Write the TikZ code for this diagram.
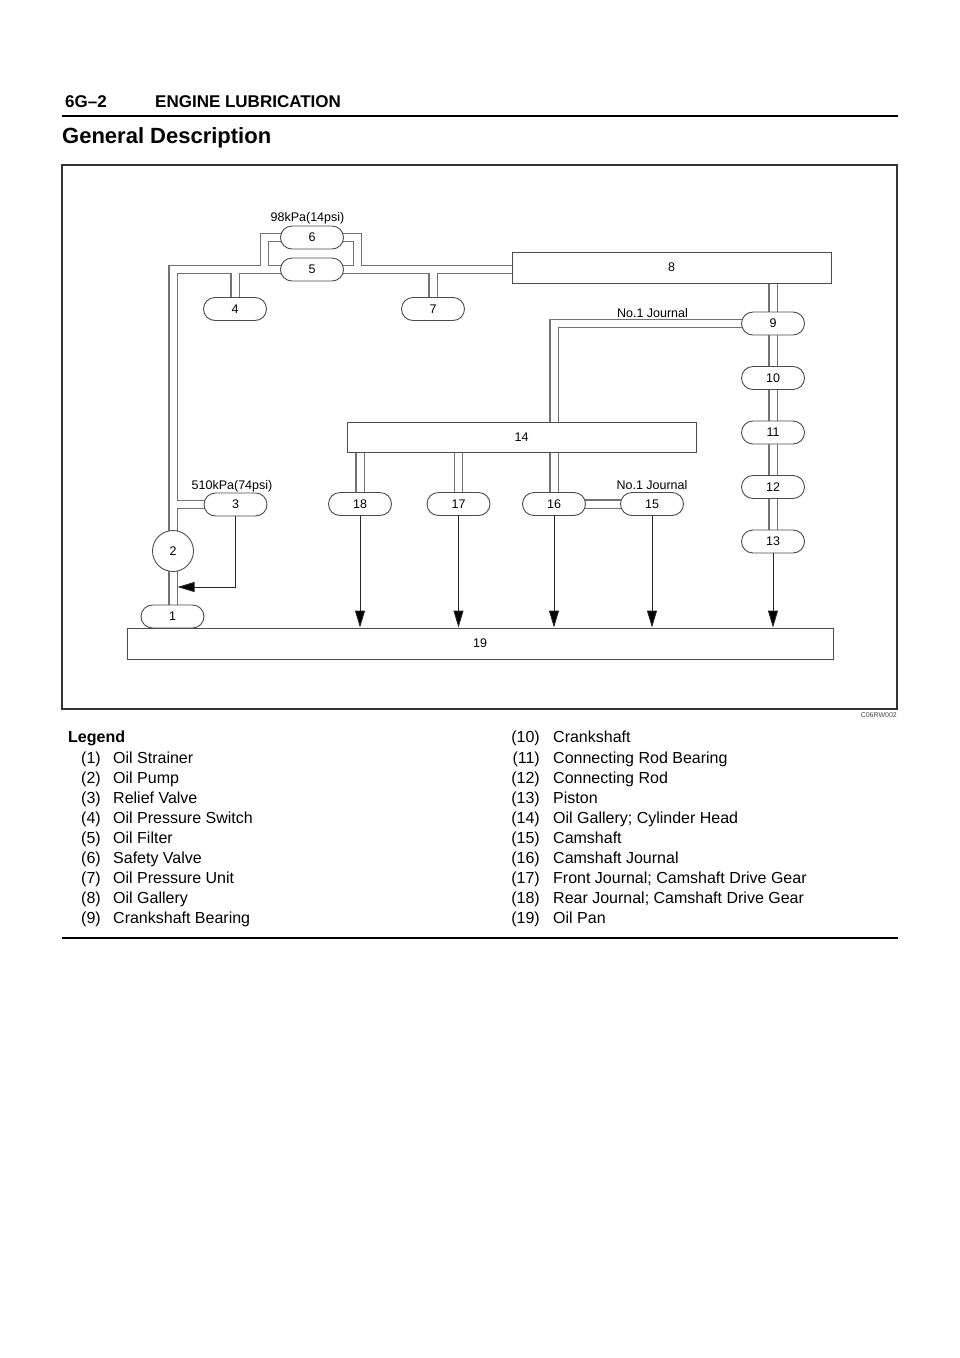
\documentclass[tikz,border=0pt]{standalone}
\usepackage{fontspec}
\setmainfont{Liberation Sans}
\usetikzlibrary{shapes.misc,arrows.meta}
\pgfdeclarelayer{background}
\pgfsetlayers{background,main}

\newcommand\pipenet{%
  \draw (n2.center) -- (173,269.5) -- (n5.center);
  \draw (264.5,269.5) -- (264.5,237.5) -- (n6.center);
  \draw (n5.center) -- (n5.center -| n8.center);
  \draw (357.5,269.5) -- (357.5,237.5) -- (n6.center);
  \draw (n4.center |- n5.center) -- (n4.center);
  \draw (n7.center |- n5.center) -- (n7.center);
  \draw (n9.center |- n8.center) -- (n13.center);
  \draw (n9.center) -- (n16.center |- n9.center) -- (n16.center);
  \draw (n18.center |- n14.center) -- (n18.center);
  \draw (n17.center |- n14.center) -- (n17.center);
  \draw (n16.center) -- (n15.center);
  \draw (n3.center -| n2.center) -- (n3.center);
  \draw (n2.center) -- (n2.center |- n1.center);
}

\begin{document}
\begin{tikzpicture}[x=1pt,y=-1pt,
  dfont/.style={font=\fontsize{12.5}{14}\selectfont},
  pill/.style={rounded rectangle, draw=black!70, line width=0.9pt, fill=white,
    minimum width=63pt, minimum height=23pt, inner sep=0pt, dfont},
  pbox/.style={rectangle, draw=black!70, line width=0.9pt, fill=white,
    inner sep=0pt, dfont},
  lbl/.style={anchor=base, inner sep=0pt, dfont},
  flow/.style={draw=black!85, line width=0.9pt, -{Triangle[length=17pt,width=10pt,fill=black]}},
  legn/.style={anchor=base east, inner sep=0pt, font=\fontsize{16}{18}\selectfont},
  legt/.style={anchor=base west, inner sep=0pt, font=\fontsize{16}{18}\selectfont},
  pipeout/.style={every path/.style={draw=black!55, line width=9.3pt}},
  pipein/.style={every path/.style={draw=white, line width=7pt}}
]
\useasboundingbox (0,0) rectangle (960,1358);

% header
\node[anchor=base west, inner sep=0pt, font=\bfseries\fontsize{17}{20}\selectfont] (hA) at (65,107) {6G–2};
\node[anchor=base west, inner sep=0pt, font=\bfseries\fontsize{17}{20}\selectfont] (hB) at (155,107) {ENGINE LUBRICATION};
\draw[line width=2pt] (62,115.5) -- (898,115.5);
\node[anchor=base west, inner sep=0pt, font=\bfseries\fontsize{22}{26}\selectfont] (hC) at (62,143) {General Description};

% frame
\draw[line width=1.2pt, draw=black!80] (62,165) rectangle (897,709);
\node[anchor=base east, inner sep=0pt, font=\fontsize{7}{8}\selectfont, text=black!70] (code) at (897,717) {C06RW002};

% components
\node[pill] (n6) at (312,237.5) {6};
\node[pill] (n5) at (312,269.5) {5};
\node[pill] (n4) at (235,309) {4};
\node[pill] (n7) at (433,309) {7};
\node[pbox, minimum width=319pt, minimum height=31pt] (n8) at (671.5,267.5) {8};
\node[pill] (n9) at (773,323.5) {9};
\node[pill] (n10) at (773,378) {10};
\node[pill] (n11) at (773,432.5) {11};
\node[pill] (n12) at (773,487) {12};
\node[pill] (n13) at (773,541.5) {13};
\node[pbox, minimum width=349pt, minimum height=30pt] (n14) at (521.5,437) {14};
\node[pill] (n18) at (360,504) {18};
\node[pill] (n17) at (458.5,504) {17};
\node[pill] (n16) at (554,504) {16};
\node[pill] (n15) at (652,504) {15};
\node[pill] (n3) at (235.5,504.5) {3};
\node[circle, draw=black!70, line width=0.9pt, fill=white, minimum size=41pt, inner sep=0pt, dfont] (n2) at (173,551) {2};
\node[pill] (n1) at (172.5,616.5) {1};
\node[pbox, minimum width=706pt, minimum height=31pt] (n19) at (480,643.5) {19};

% labels
\node[lbl] (t98) at (307.5,221.5) {98kPa(14psi)};
\node[lbl] (tj1) at (652.5,317) {No.1 Journal};
\node[lbl] (t510) at (232,489) {510kPa(74psi)};
\node[lbl] (tj2) at (652,489) {No.1 Journal};

% pipes
\begin{pgfonlayer}{background}
  \fill[white] (0,0) rectangle (960,1358);
  \begin{scope}[pipeout]\pipenet\end{scope}
  \begin{scope}[pipein]\pipenet\end{scope}
\end{pgfonlayer}

% flows
\coordinate (pw) at (177.5,587);
\draw[flow] (n3.south) |- (pw);
\draw[flow] (n18.south) -- (n18.south |- n19.north);
\draw[flow] (n17.south) -- (n17.south |- n19.north);
\draw[flow] (n16.south) -- (n16.south |- n19.north);
\draw[flow] (n15.south) -- (n15.south |- n19.north);
\draw[flow] (n13.south) -- (n13.south |- n19.north);

% legend
\node[anchor=base west, inner sep=0pt, font=\bfseries\fontsize{16}{18}\selectfont] (lg) at (68,742) {Legend};
\node[legn] (a1) at (101,763) {(1)}; \node[legt] (b1) at (113,763) {Oil Strainer};
\node[legn] (a2) at (101,783) {(2)}; \node[legt] (b2) at (113,783) {Oil Pump};
\node[legn] (a3) at (101,803) {(3)}; \node[legt] (b3) at (113,803) {Relief Valve};
\node[legn] (a4) at (101,823) {(4)}; \node[legt] (b4) at (113,823) {Oil Pressure Switch};
\node[legn] (a5) at (101,843) {(5)}; \node[legt] (b5) at (113,843) {Oil Filter};
\node[legn] (a6) at (101,863) {(6)}; \node[legt] (b6) at (113,863) {Safety Valve};
\node[legn] (a7) at (101,883) {(7)}; \node[legt] (b7) at (113,883) {Oil Pressure Unit};
\node[legn] (a8) at (101,903) {(8)}; \node[legt] (b8) at (113,903) {Oil Gallery};
\node[legn] (a9) at (101,923) {(9)}; \node[legt] (b9) at (113,923) {Crankshaft Bearing};

\node[legn] (a10) at (540,742) {(10)}; \node[legt] (b10) at (553,742) {Crankshaft};
\node[legn] (a11) at (540,763) {(11)}; \node[legt] (b11) at (553,763) {Connecting Rod Bearing};
\node[legn] (a12) at (540,783) {(12)}; \node[legt] (b12) at (553,783) {Connecting Rod};
\node[legn] (a13) at (540,803) {(13)}; \node[legt] (b13) at (553,803) {Piston};
\node[legn] (a14) at (540,823) {(14)}; \node[legt] (b14) at (553,823) {Oil Gallery; Cylinder Head};
\node[legn] (a15) at (540,843) {(15)}; \node[legt] (b15) at (553,843) {Camshaft};
\node[legn] (a16) at (540,863) {(16)}; \node[legt] (b16) at (553,863) {Camshaft Journal};
\node[legn] (a17) at (540,883) {(17)}; \node[legt] (b17) at (553,883) {Front Journal; Camshaft Drive Gear};
\node[legn] (a18) at (540,903) {(18)}; \node[legt] (b18) at (553,903) {Rear Journal; Camshaft Drive Gear};
\node[legn] (a19) at (540,923) {(19)}; \node[legt] (b19) at (553,923) {Oil Pan};

\draw[line width=1.3pt] (62,938) -- (898,938);
\end{tikzpicture}
\end{document}
